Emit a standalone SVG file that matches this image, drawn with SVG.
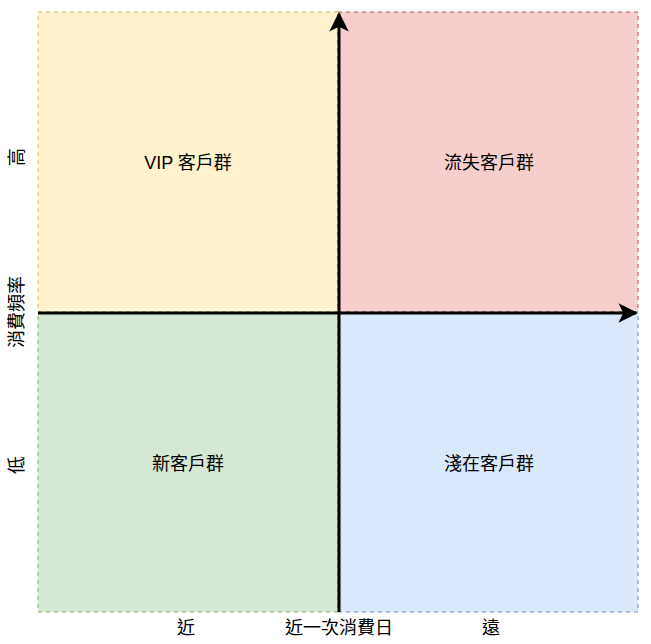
<svg xmlns="http://www.w3.org/2000/svg" width="651" height="644" viewBox="0 0 651 644">
<style>
.q{stroke-dasharray:4 4;stroke-width:1}
text{font-family:"Liberation Sans","Noto Sans CJK TC",sans-serif;font-size:18px;fill:#000;text-anchor:middle;dominant-baseline:central}
.ax{stroke:#000;stroke-width:3;fill:none}
</style>
<defs>
<marker id="arr" viewBox="0 0 10 10" refX="9" refY="5" markerWidth="6.5" markerHeight="6.5" orient="auto" markerUnits="strokeWidth">
<path d="M0,0 L10,5 L0,10 L2.5,5 Z" fill="#000"/>
</marker>
</defs>
<rect width="651" height="644" fill="#fff"/>
<g id="vip"><rect class="q" x="38" y="12" width="300" height="300" fill="#fff2cc" stroke="#d6b656"/><text x="188" y="163">VIP 客戶群</text></g>
<g id="lost"><rect class="q" x="338" y="12" width="300" height="300" fill="#f8cecc" stroke="#b85450"/><text x="489" y="163">流失客戶群</text></g>
<g id="new"><rect class="q" x="38" y="312" width="300" height="300" fill="#d5e8d4" stroke="#82b366"/><text x="188" y="464">新客戶群</text></g>
<g id="potential"><rect class="q" x="338" y="312" width="300" height="300" fill="#dae8fc" stroke="#6c8ebf"/><text x="489" y="464">淺在客戶群</text></g>
<g id="connectors">
<line class="ax" x1="339" y1="612" x2="339" y2="14" marker-end="url(#arr)"/>
<line class="ax" x1="38" y1="313" x2="636" y2="313" marker-end="url(#arr)"/>
</g>
<g id="labels">
<text x="186" y="628">近</text>
<text x="339" y="628">近一次消費日</text>
<text x="491" y="628">遠</text>
<text transform="translate(17,157) rotate(-90)">高</text>
<text transform="translate(17,312) rotate(-90)">消費頻率</text>
<text transform="translate(17,465) rotate(-90)">低</text>
</g>
</svg>
